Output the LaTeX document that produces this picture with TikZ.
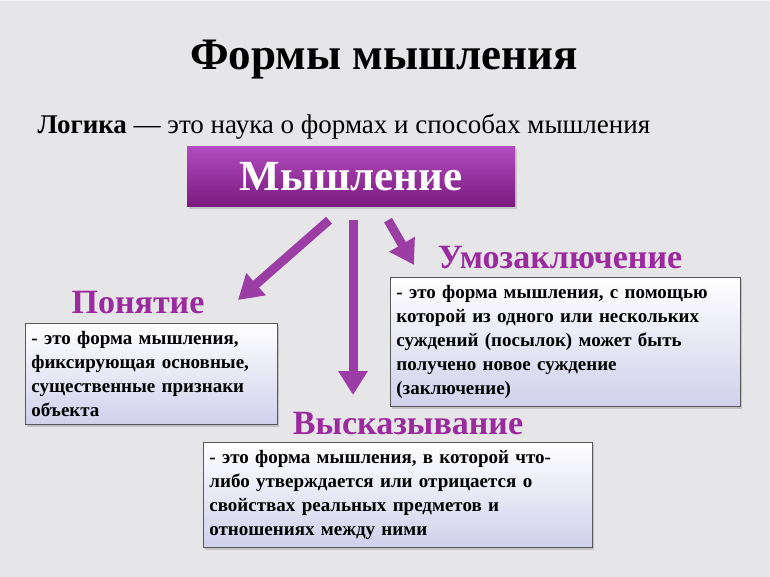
\documentclass[tikz,border=0pt]{standalone}
\usepackage{fontspec}
\setmainfont{Liberation Serif}
\usetikzlibrary{arrows.meta,shadows}
\definecolor{pur}{HTML}{9A2A9E}
\definecolor{purL}{HTML}{B04BBE}
\definecolor{purD}{HTML}{7A1A7E}
\definecolor{arr}{HTML}{9C3DA6}
\definecolor{bgc}{HTML}{E6E6E8}
\definecolor{boxB}{HTML}{D0D0EC}
\tikzset{
 lbl/.style={font=\bfseries\fontsize{34}{36}\selectfont, text=pur, inner sep=0pt},
 defbox/.style={draw=gray!70!black, line width=0.8pt, top color=white, bottom color=boxB,
   drop shadow={opacity=0.35,shadow xshift=2pt,shadow yshift=-2pt},
   align=left, anchor=north west, inner xsep=6pt, inner ysep=8pt,
   font=\bfseries\fontsize{19}{24}\selectfont},
 barrow/.style={draw=arr, line width=9pt, -{Triangle[length=24pt,width=28pt]}}
}
\begin{document}
\begin{tikzpicture}[x=1pt,y=-1pt]
\useasboundingbox (0,0) rectangle (770,577);
\fill[bgc] (0,0) rectangle (770,577);
\draw[white!60!bgc, line width=0.5pt, step=4pt] (0,-577) grid (770,0);
\node (title) at (384,60) {\bfseries\fontsize{45}{50}\selectfont Формы мышления};
\node[anchor=west] (logic) at (34,127) {\fontsize{27}{30}\selectfont\textbf{Логика} — это наука о формах и способах мышления};
\node[minimum width=328pt, minimum height=60pt, top color=purL, bottom color=purD,
  drop shadow={opacity=0.3,shadow xshift=2pt,shadow yshift=-2pt},
  text=white, font=\bfseries\fontsize{43}{46}\selectfont] (main) at (351,177) {Мышление};
\coordinate (eL) at (238,300);
\coordinate (eM) at (353,395);
\coordinate (eR) at (414,265);
\draw[barrow] ([xshift=-22pt,yshift=-13pt]main.south) -- (eL);
\draw[barrow] ([xshift=2pt,yshift=-13pt]main.south) -- (eM);
\draw[barrow] ([xshift=37pt,yshift=-13pt]main.south) -- (eR);
\node[lbl] (l1) at (138,303) {Понятие};
\node[lbl] (l2) at (560,258) {Умозаключение};
\node[lbl] (l3) at (408,424) {Высказывание};
\node[defbox, text width=240pt, minimum height=98pt] (b1) at (25,323) {- это форма мышления,\\фиксирующая основные,\\существенные признаки\\объекта};
\node[defbox, text width=338pt, minimum height=123pt] (b2) at (390,277) {- это форма мышления, с помощью\\которой из одного или нескольких\\суждений (посылок) может быть\\получено новое суждение\\(заключение)};
\node[defbox, text width=377pt, minimum height=101pt] (b3) at (203,442) {- это форма мышления, в которой что-\\либо утверждается или отрицается о\\свойствах реальных предметов и\\отношениях между ними};
\end{tikzpicture}
\end{document}
